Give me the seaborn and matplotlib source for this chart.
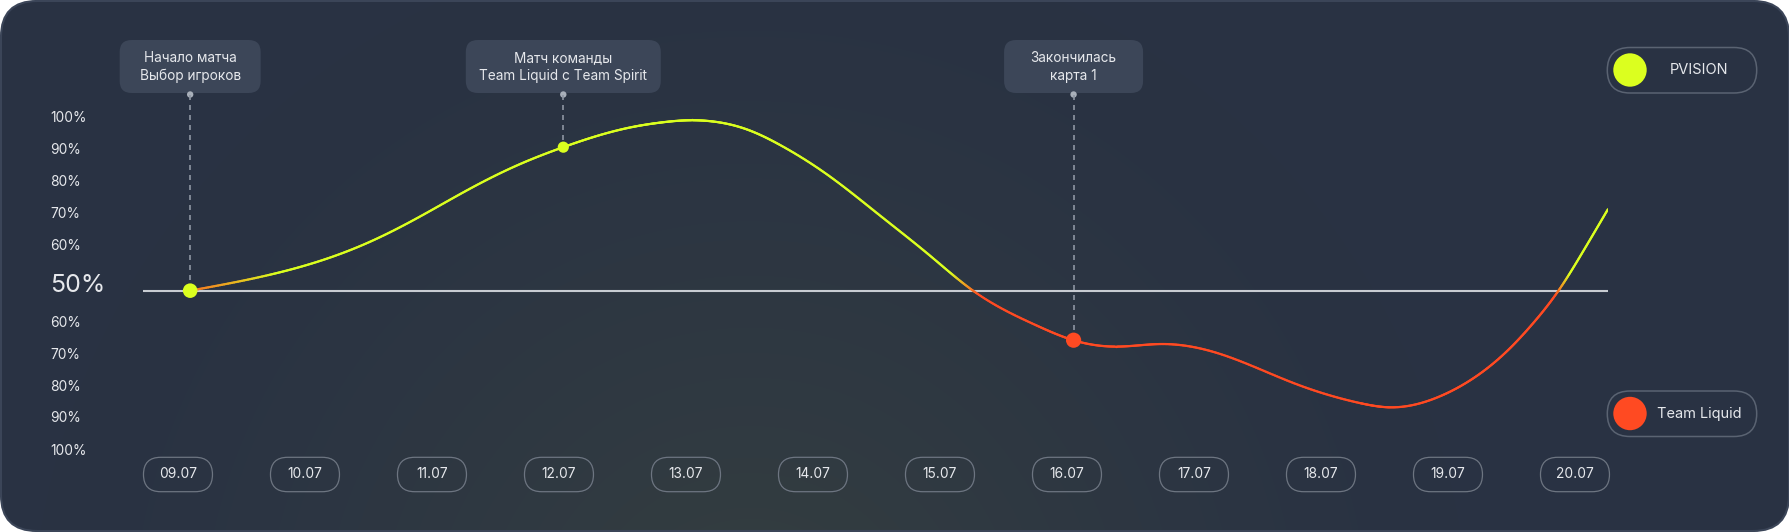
import numpy as np
import matplotlib
matplotlib.use('Agg')
import matplotlib.pyplot as plt
import seaborn as sns
from matplotlib.patches import FancyBboxPatch, Circle
from matplotlib.collections import LineCollection

# даты по оси X
days = ['09.07', '10.07', '11.07', '12.07', '13.07', '14.07',
        '15.07', '16.07', '17.07', '18.07', '19.07', '20.07']

# кривая перевеса (день от 09.07, значение; 0 = 50%)
curve_x = [0.096, 0.725, 1.118, 1.512, 1.906, 2.299, 2.693, 3.034, 3.29, 3.59, 3.80,
           4.01, 4.22, 4.49, 4.74, 5.134, 5.528, 5.92, 6.26, 6.75, 7.05, 7.40, 7.74,
           8.19, 8.79, 9.31, 9.54, 9.94, 10.20, 10.46, 10.67, 10.87, 11.07, 11.26]
curve_y = [0, 5.0, 9.3, 15.3, 23.2, 31.9, 39.6, 44.9, 48.3, 51.3, 52.6,
           53.3, 52.9, 50.3, 45.6, 35.7, 23.5, 11.0, 0, -10.7, -15.5, -17.5, -16.7,
           -19.6, -29.0, -35.2, -36.5, -33.0, -27.4, -19.1, -10.2, 0, 12.7, 25.5]

# события
event_x = [0.096, 3.034, 7.052]
event_y = [0, 44.9, -15.5]
event_text = ['Начало матча\nВыбор игроков',
              'Матч команды\nTeam Liquid с Team Spirit',
              'Закончилась\nкарта 1']

ytick_labels = ['100%', '90%', '80%', '70%', '60%', '50%',
                '60%', '70%', '80%', '90%', '100%']
ytick_pos = [54.6, 44.6, 34.6, 24.6, 14.6, 2.5, -9.7, -19.6, -29.6, -39.5, -49.6]

teams = ['PVISION', 'Team Liquid']

YELLOW = '#dbff1f'
ORANGE = '#ff4a22'
TXT = '#e6e8ec'

sns.set_theme(style='dark')
plt.rcParams['font.family'] = ['Inter', 'DejaVu Sans']

W, H = 1790, 532
fig = plt.figure(figsize=(W / 100, H / 100), dpi=100)
fig.patch.set_facecolor('white')

# фон-карточка с градиентом
bg = fig.add_axes([0, 0, 1, 1], zorder=0)
yy, xx = np.mgrid[0:H, 0:W]
r = np.hypot(xx - 750, yy - 650)
t = np.clip(1 - r / 720, 0, 1) ** 1.3
c0 = np.array([41, 50, 67]) / 255
c1 = np.array([53, 63, 64]) / 255
img = c0 + (c1 - c0) * t[..., None]
im = bg.imshow(img, extent=(0, W, H, 0), aspect='auto', interpolation='bilinear')
card = FancyBboxPatch((1, 1), W - 2, H - 2, boxstyle='round,pad=0,rounding_size=36',
                      fc='none', ec='#3b4558', lw=1.5)
bg.add_patch(card)
im.set_clip_path(card)
bg.set_xlim(0, W)
bg.set_ylim(H, 0)
bg.axis('off')

# основная область
ax = fig.add_axes([143 / W, 1 - 455 / H, (1608 - 143) / W, (455 - 96) / H], zorder=2)
ax.set_facecolor('none')
ax.set_xlim(-0.2754, 11.26)
ax.set_ylim(-51.42, 60.91)
for s in ax.spines.values():
    s.set_visible(False)
ax.grid(False)

ax.axhline(0, color='#c8ccd2', lw=1.5, zorder=2)


# сглаживание кривой (натуральный кубический сплайн)
def smooth(x, y, n=40):
    x = np.asarray(x, float)
    y = np.asarray(y, float)
    k = len(x)
    h = np.diff(x)
    A = np.zeros((k, k))
    b = np.zeros(k)
    A[0, 0] = A[-1, -1] = 1
    for i in range(1, k - 1):
        A[i, i - 1] = h[i - 1]
        A[i, i] = 2 * (h[i - 1] + h[i])
        A[i, i + 1] = h[i]
        b[i] = 6 * ((y[i + 1] - y[i]) / h[i] - (y[i] - y[i - 1]) / h[i - 1])
    M = np.linalg.solve(A, b)
    xs, ys = [], []
    for i in range(k - 1):
        xx_ = np.linspace(x[i], x[i + 1], n, endpoint=False)
        a = x[i + 1] - xx_
        c = xx_ - x[i]
        yy_ = (M[i] * a**3 + M[i + 1] * c**3) / (6 * h[i]) \
            + (y[i] / h[i] - M[i] * h[i] / 6) * a \
            + (y[i + 1] / h[i] - M[i + 1] * h[i] / 6) * c
        xs.append(xx_)
        ys.append(yy_)
    xs.append([x[-1]])
    ys.append([y[-1]])
    return np.concatenate(xs), np.concatenate(ys)


xs, ys = smooth(curve_x, curve_y)
segs = np.stack([np.column_stack([xs[:-1], ys[:-1]]),
                 np.column_stack([xs[1:], ys[1:]])], axis=1)
vm = (ys[:-1] + ys[1:]) / 2
tt = np.clip((vm + 1.5) / 7, 0, 1)[:, None]
y_rgb = np.array(matplotlib.colors.to_rgb(YELLOW))
o_rgb = np.array(matplotlib.colors.to_rgb(ORANGE))
cols = o_rgb * (1 - tt) + y_rgb * tt
lc = LineCollection(segs, colors=cols, linewidths=1.6, capstyle='round', zorder=3)
ax.add_collection(lc)

dot_sizes = [110, 65, 120]
dot_cols = [YELLOW, YELLOW, ORANGE]
for ex, ey, s, c in zip(event_x, event_y, dot_sizes, dot_cols):
    sns.scatterplot(x=[ex], y=[ey], s=s, color=c, edgecolor='none', zorder=4, ax=ax, legend=False)

ax.set_xticks(range(len(days)), labels=days)
ax.set_yticks(ytick_pos, labels=ytick_labels)
ax.tick_params(axis='x', length=0, pad=14, labelsize=9.9, labelcolor=TXT)
ax.tick_params(axis='y', length=0, pad=67, labelsize=9.9, labelcolor=TXT)
for lab in ax.get_xticklabels():
    lab.set_va('center')
for lab in ax.get_yticklabels():
    lab.set_ha('left')
    if lab.get_text() == '50%':
        lab.set_fontsize(18)
ax.set_xlabel('')
ax.set_ylabel('')

# рамки дат
for i in range(len(days)):
    px = ax.transData.transform((i, 0))[0]
    bg.add_patch(FancyBboxPatch((px - 34.5, 457.3), 69, 34.4,
                                boxstyle='round,pad=0,rounding_size=17.2',
                                fc='none', ec='#6d7581', lw=0.9))

# подписи событий
callout_w = [141, 195, 139]
for ex, ey, txt, w in zip(event_x, event_y, event_text, callout_w):
    px, py = ax.transData.transform((ex, ey))
    py = H - py
    bg.add_patch(FancyBboxPatch((px - w / 2, 40), w, 53,
                                boxstyle='round,pad=0,rounding_size=12',
                                fc='#3c4658', ec='none'))
    bg.text(px, 67, txt, ha='center', va='center', fontsize=9.8,
            color=TXT, linespacing=1.4)
    bg.plot([px, px], [95, py], ls=(0, (3, 3)), color='#8e96a3', lw=1.2)
    bg.add_patch(Circle((px, 94.5), 3.2, fc='#a9b0ba', ec='none'))

# легенда
for name, col, top in zip(teams, [YELLOW, ORANGE], [47.5, 391]):
    bg.add_patch(FancyBboxPatch((1607.3, top), 149.4, 45.5,
                                boxstyle='round,pad=0,rounding_size=22.7',
                                fc='none', ec='#5a6372', lw=1.1))
    bg.add_patch(Circle((1630, top + 22.5), 16.7, fc=col, ec='none'))
    bg.text(1699, top + 23, name, ha='center', va='center', fontsize=10.5, color=TXT)

fig.savefig('out.png', dpi=100)
